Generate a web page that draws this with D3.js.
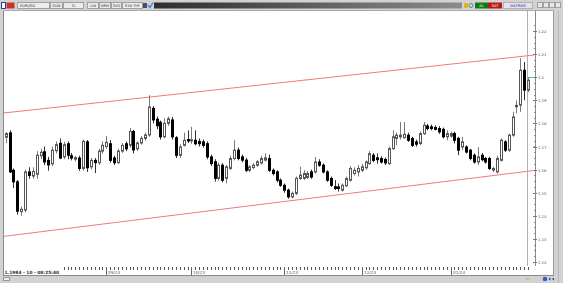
<!DOCTYPE html>
<html>
<head>
<meta charset="utf-8">
<script src="https://cdn.jsdelivr.net/npm/d3@7/dist/d3.min.js"></script>
<style>
  body { margin: 0; background: #d4d4d4; }
  svg { display: block; font-family: "DejaVu Sans", sans-serif; }
</style>
</head>
<body>
<script>
// daily EURUSD candles
const open  = [1.1740,1.1759,1.1597,1.1547,1.1418,1.1425,1.1590,1.1572,1.1580,1.1660,1.1677,1.1640,1.1625,1.1682,1.1714,1.1655,1.1712,1.1660,1.1645,1.1650,
               1.1605,1.1720,1.1612,1.1640,1.1630,1.1680,1.1700,1.1712,1.1650,1.1630,1.1680,1.1712,1.1705,1.1765,1.1690,1.1715,1.1735,1.1750,1.1865,1.1818,
               1.1805,1.1742,1.1800,1.1815,1.1738,1.1662,1.1705,1.1730,1.1724,1.1727,1.1722,1.1720,1.1712,1.1655,1.1634,1.1562,1.1619,1.1562,1.1605,1.1648,
               1.1684,1.1655,1.1641,1.1597,1.1609,1.1619,1.1629,1.1641,1.1648,1.1597,1.1590,1.1554,1.1532,1.1511,1.1482,1.1497,1.1562,1.1562,1.1566,1.1590,
               1.1590,1.1633,1.1619,1.1590,1.1562,1.1526,1.1525,1.1511,1.1530,1.1554,1.1583,1.1590,1.1597,1.1608,1.1626,1.1662,1.1651,1.1648,1.1644,1.1626,
               1.1691,1.1735,1.1742,1.1738,1.1749,1.1735,1.1720,1.1713,1.1756,1.1789,1.1785,1.1782,1.1778,1.1774,1.1742,1.1745,1.1756,1.1735,1.1698,1.1698,
               1.1684,1.1662,1.1633,1.1662,1.1648,1.1648,1.1598,1.1590,1.1640,1.1720,1.1684,1.1749,1.1872,1.1879,1.2030,1.1944];
const high  = [1.1762,1.1770,1.1605,1.1555,1.1440,1.1600,1.1610,1.1610,1.1680,1.1690,1.1700,1.1655,1.1700,1.1722,1.1735,1.1720,1.1722,1.1672,1.1660,1.1660,
               1.1730,1.1728,1.1650,1.1650,1.1690,1.1722,1.1745,1.1728,1.1660,1.1690,1.1715,1.1722,1.1780,1.1772,1.1722,1.1745,1.1760,1.1922,1.1875,1.1830,
               1.1812,1.1822,1.1830,1.1828,1.1745,1.1710,1.1760,1.1770,1.1785,1.1770,1.1735,1.1730,1.1722,1.1665,1.1645,1.1630,1.1628,1.1620,1.1660,1.1727,
               1.1695,1.1665,1.1650,1.1620,1.1628,1.1642,1.1660,1.1670,1.1665,1.1605,1.1597,1.1562,1.1540,1.1518,1.1505,1.1570,1.1612,1.1597,1.1594,1.1600,
               1.1655,1.1645,1.1627,1.1597,1.1570,1.1554,1.1540,1.1540,1.1570,1.1615,1.1610,1.1620,1.1625,1.1640,1.1680,1.1672,1.1670,1.1658,1.1652,1.1700,
               1.1770,1.1760,1.1806,1.1806,1.1760,1.1742,1.1730,1.1765,1.1806,1.1798,1.1795,1.1792,1.1788,1.1782,1.1770,1.1765,1.1765,1.1742,1.1742,1.1705,
               1.1690,1.1670,1.1698,1.1672,1.1655,1.1655,1.1612,1.1660,1.1735,1.1727,1.1756,1.1850,1.1900,1.2082,1.2066,1.2000];
const low   = [1.1715,1.1585,1.1520,1.1405,1.1400,1.1415,1.1560,1.1560,1.1560,1.1645,1.1620,1.1595,1.1615,1.1670,1.1645,1.1645,1.1645,1.1640,1.1635,1.1595,
               1.1595,1.1590,1.1600,1.1585,1.1620,1.1670,1.1690,1.1630,1.1620,1.1625,1.1672,1.1680,1.1695,1.1670,1.1680,1.1708,1.1725,1.1742,1.1800,1.1775,
               1.1730,1.1735,1.1790,1.1730,1.1650,1.1650,1.1700,1.1715,1.1712,1.1705,1.1700,1.1695,1.1645,1.1615,1.1548,1.1552,1.1545,1.1540,1.1598,1.1640,
               1.1640,1.1632,1.1590,1.1590,1.1602,1.1612,1.1622,1.1635,1.1590,1.1575,1.1545,1.1525,1.1500,1.1474,1.1475,1.1490,1.1555,1.1555,1.1560,1.1560,
               1.1583,1.1612,1.1583,1.1547,1.1525,1.1511,1.1505,1.1505,1.1525,1.1547,1.1575,1.1570,1.1590,1.1600,1.1620,1.1632,1.1626,1.1626,1.1620,1.1620,
               1.1685,1.1705,1.1730,1.1735,1.1720,1.1698,1.1700,1.1705,1.1750,1.1770,1.1770,1.1770,1.1755,1.1735,1.1727,1.1738,1.1713,1.1662,1.1684,1.1670,
               1.1640,1.1626,1.1620,1.1636,1.1626,1.1598,1.1590,1.1583,1.1635,1.1676,1.1676,1.1742,1.1843,1.1850,1.1900,1.1935];
const close = [1.1756,1.1590,1.1547,1.1420,1.1428,1.1590,1.1575,1.1592,1.1662,1.1675,1.1633,1.1620,1.1684,1.1708,1.1650,1.1708,1.1662,1.1650,1.1652,1.1605,
               1.1722,1.1608,1.1640,1.1630,1.1680,1.1705,1.1718,1.1640,1.1630,1.1680,1.1705,1.1690,1.1765,1.1685,1.1715,1.1735,1.1750,1.1871,1.1815,1.1790,
               1.1742,1.1800,1.1820,1.1742,1.1662,1.1698,1.1727,1.1724,1.1729,1.1712,1.1712,1.1705,1.1655,1.1626,1.1562,1.1619,1.1554,1.1612,1.1648,1.1684,
               1.1648,1.1641,1.1597,1.1612,1.1619,1.1634,1.1648,1.1651,1.1597,1.1583,1.1554,1.1532,1.1511,1.1482,1.1497,1.1562,1.1576,1.1583,1.1583,1.1568,
               1.1633,1.1619,1.1590,1.1554,1.1532,1.1518,1.1518,1.1532,1.1561,1.1605,1.1597,1.1605,1.1612,1.1633,1.1669,1.1640,1.1643,1.1633,1.1629,1.1691,
               1.1742,1.1749,1.1749,1.1753,1.1727,1.1705,1.1710,1.1756,1.1792,1.1778,1.1778,1.1774,1.1763,1.1742,1.1756,1.1756,1.1727,1.1684,1.1720,1.1676,
               1.1648,1.1633,1.1655,1.1643,1.1633,1.1605,1.1605,1.1648,1.1727,1.1684,1.1749,1.1828,1.1878,1.2030,1.1944,1.1987];

const dateLabels   = ['09/23', '10/23', '11/23', '12/23', '01/24'];
const dateLabelBar = [26, 48, 72, 92, 115];
const priceTicks   = [1.12, 1.13, 1.14, 1.15, 1.16, 1.17, 1.18, 1.19, 1.20, 1.21, 1.22];
// trend lines as [bar, price] pairs
const upperTrend = [[0, 1.1846], [135, 1.2093]];
const lowerTrend = [[0, 1.1312], [135, 1.1593]];
const lastPrice  = 1.2003;
const infoText   = '1.1984 - 10 - 08:25:40';
const toolButtons = ['EURUSD', 'GÜN', 'TL', 'LIN', 'KRM', 'SVD', 'SYN THF'];

const W = 563, H = 283;
const N = open.length;

const svg = d3.select('body').append('svg')
  .attr('width', W)
  .attr('height', H);

const x = d3.scaleLinear().domain([0, N - 1]).range([5.7, 528]);
const y = d3.scaleLinear().domain([1.12, 1.22]).range([262, 31]);

// window frame ------------------------------------------------------------
svg.append('rect').attr('width', W).attr('height', H).attr('fill', '#d2d2d2');
svg.append('rect').attr('x', 4).attr('y', 11).attr('width', 549).attr('height', 264).attr('fill', '#fff');
svg.append('line').attr('x1', 3.5).attr('x2', 3.5).attr('y1', 11).attr('y2', 275).attr('stroke', '#8a8a8a');
svg.append('line').attr('x1', 553.5).attr('x2', 553.5).attr('y1', 11).attr('y2', 275).attr('stroke', '#9a9a9a');
svg.append('line').attr('x1', 3).attr('x2', 554).attr('y1', 10.5).attr('y2', 10.5).attr('stroke', '#a8a8a8');
svg.append('line').attr('x1', 3).attr('x2', 554).attr('y1', 275.5).attr('y2', 275.5).attr('stroke', '#8a8a8a');
svg.append('line').attr('x1', 558.5).attr('x2', 558.5).attr('y1', 11).attr('y2', 283).attr('stroke', '#b8b8b8');

// toolbar
const defs = svg.append('defs');
const grad = defs.append('linearGradient').attr('id', 'bar');
grad.append('stop').attr('offset', '0%').attr('stop-color', '#2e2e2e');
grad.append('stop').attr('offset', '100%').attr('stop-color', '#8c8c8c');

const tb = svg.append('g');
tb.append('rect').attr('x', 1.5).attr('y', 2.5).attr('width', 4).attr('height', 6).attr('fill', '#fff').attr('stroke', '#2a3f9a');
tb.append('rect').attr('x', 6.5).attr('y', 2.5).attr('width', 8).attr('height', 6).attr('fill', '#c8342c');
const btnX = [17, 50, 63, 87, 99, 111, 122];
const btnW = [32, 12, 20, 11, 11, 10, 20];
toolButtons.forEach((t, k) => {
  tb.append('rect').attr('x', btnX[k] + 0.5).attr('y', 2.5).attr('width', btnW[k]).attr('height', 6)
    .attr('fill', '#ececec').attr('stroke', '#a0a0a0');
  tb.append('text').attr('x', k === 0 ? btnX[k] + 3 : btnX[k] + btnW[k] / 2 + 0.5).attr('y', 7.2)
    .attr('text-anchor', k === 0 ? 'start' : 'middle')
    .attr('font-size', 3.6).attr('fill', '#333').text(t);
});
tb.append('rect').attr('x', 143).attr('y', 3).attr('width', 4).attr('height', 5).attr('fill', '#4a4a6a');
tb.append('path').attr('d', 'M148,5 L150,7.5 L153,2.5').attr('fill', 'none').attr('stroke', '#3a8ad8').attr('stroke-width', 1.4);
tb.append('rect').attr('x', 154).attr('y', 2.5).attr('width', 308).attr('height', 6).attr('fill', 'url(#bar)');
tb.append('rect').attr('x', 464).attr('y', 3).attr('width', 4).attr('height', 5).attr('fill', '#e0b030');
tb.append('circle').attr('cx', 471).attr('cy', 5.5).attr('r', 2).attr('fill', 'none').attr('stroke', '#3a9a5a');
tb.append('rect').attr('x', 475).attr('y', 2.5).attr('width', 13).attr('height', 6).attr('fill', '#127a12');
tb.append('text').attr('x', 481.5).attr('y', 7.2).attr('text-anchor', 'middle').attr('font-size', 3.6).attr('fill', '#fff').text('AL');
tb.append('rect').attr('x', 488).attr('y', 2.5).attr('width', 14).attr('height', 6).attr('fill', '#b81818');
tb.append('text').attr('x', 495).attr('y', 7.2).attr('text-anchor', 'middle').attr('font-size', 3.6).attr('fill', '#fff').text('SAT');
tb.append('rect').attr('x', 503.5).attr('y', 2.5).attr('width', 29).attr('height', 6).attr('fill', '#e4e4ec').attr('stroke', '#b0b0b8');
tb.append('text').attr('x', 518).attr('y', 7.2).attr('text-anchor', 'middle').attr('font-size', 3.6).attr('fill', '#2a2a8a').text('MATRİKS');
[537, 543, 549, 555].forEach(bx => {
  tb.append('rect').attr('x', bx + 0.5).attr('y', 2.5).attr('width', 5).attr('height', 5).attr('fill', '#e8e8e8').attr('stroke', '#a0a0a0');
});

// price axis ----------------------------------------------------------------
const axisX = 535.5;
svg.append('line').attr('x1', axisX).attr('x2', axisX).attr('y1', 11).attr('y2', 266).attr('stroke', '#888');
const minor = d3.range(1.12, 1.2226, 0.0025);
svg.append('g').selectAll('line').data(minor).join('line')
  .attr('x1', axisX - 1.5).attr('x2', axisX)
  .attr('y1', d => Math.round(y(d)) + 0.5).attr('y2', d => Math.round(y(d)) + 0.5)
  .attr('stroke', '#888');
const yTicks = svg.append('g').selectAll('g').data(priceTicks).join('g')
  .attr('transform', d => `translate(0,${Math.round(y(d)) + 0.5})`);
yTicks.append('line').attr('x1', axisX - 2.5).attr('x2', axisX + 1.5).attr('stroke', '#777');
yTicks.append('text').attr('x', axisX + 2.5).attr('dy', '0.35em')
  .attr('font-size', 3.8).attr('fill', '#555')
  .text(d => String(+d.toFixed(2)));

// trend channel -------------------------------------------------------------
function trendPath(pts) {
  const slope = (pts[1][1] - pts[0][1]) / (pts[1][0] - pts[0][0]);
  const i0 = x.invert(4), i1 = x.invert(534);
  return [[x(i0), y(pts[0][1] + slope * (i0 - pts[0][0]))],
          [x(i1), y(pts[0][1] + slope * (i1 - pts[0][0]))]];
}
svg.append('g').selectAll('path').data([upperTrend, lowerTrend]).join('path')
  .attr('d', d => d3.line()(trendPath(d)))
  .attr('stroke', '#f07a7a').attr('fill', 'none').attr('stroke-width', 1);

// marker of last bar
svg.append('line').attr('x1', 527.5).attr('x2', 527.5).attr('y1', 11).attr('y2', 266).attr('stroke', '#b0b0b0');
svg.append('line').attr('x1', 528).attr('x2', 534).attr('y1', Math.round(y(lastPrice)) + 0.5).attr('y2', Math.round(y(lastPrice)) + 0.5)
  .attr('stroke', '#40c8d8');

// candles -------------------------------------------------------------------
const bars = open.map((o, i) => ({ i, o, h: high[i], l: low[i], c: close[i] }));
const px = d => Math.round(x(d.i));
const cg = svg.append('g');
cg.selectAll('line').data(bars).join('line')
  .attr('x1', d => px(d) + 0.5).attr('x2', d => px(d) + 0.5)
  .attr('y1', d => y(d.h)).attr('y2', d => y(d.l))
  .attr('stroke', d => d.c >= d.o ? '#7a7a7a' : '#333');
cg.selectAll('rect').data(bars).join('rect')
  .attr('x', d => px(d) - 0.5)
  .attr('width', 2)
  .attr('y', d => y(Math.max(d.o, d.c)))
  .attr('height', d => Math.max(1, Math.abs(y(d.o) - y(d.c))))
  .attr('fill', d => d.c >= d.o ? (d.i === N - 1 ? '#d8d8d8' : '#fff') : '#000')
  .attr('stroke', d => d.c >= d.o ? '#555' : '#000')
  .attr('stroke-width', 1);

// time axis -----------------------------------------------------------------
svg.append('g').selectAll('line').data(bars).join('line')
  .attr('x1', d => px(d) + 0.5).attr('x2', d => px(d) + 0.5)
  .attr('y1', 267).attr('y2', 270)
  .attr('stroke', '#555');
const xl = svg.append('g').selectAll('g').data(dateLabels).join('g')
  .attr('transform', (d, k) => `translate(${Math.round(x(dateLabelBar[k])) + 0.5},0)`);
xl.append('line').attr('y1', 267).attr('y2', 275).attr('stroke', '#666');
xl.append('text').attr('x', 1.5).attr('y', 273.5).attr('font-size', 4.2).attr('fill', '#555').text(d => d);

svg.append('rect').attr('x', 4).attr('y', 266).attr('width', 58).attr('height', 9).attr('fill', '#fff');
svg.append('text').attr('x', 4.5).attr('y', 273.5).attr('font-size', 4.4).attr('font-weight', 'bold')
  .attr('fill', '#333').text(infoText);

// status bar
svg.append('rect').attr('x', 3.5).attr('y', 277.5).attr('width', 6).attr('height', 3).attr('fill', '#eee').attr('stroke', '#999');
svg.append('text').attr('x', 525).attr('y', 280).attr('font-size', 3.6).attr('fill', '#888').text('.ıl.ı');
svg.append('circle').attr('cx', 545).attr('cy', 279).attr('r', 2.3).attr('fill', '#2c62c8');
svg.append('path').attr('d', 'M551,279 L549,277.5 L549,280.5 Z M552,279 L554,277.5 L554,280.5 Z').attr('fill', '#2c4aa8');
</script>
</body>
</html>
